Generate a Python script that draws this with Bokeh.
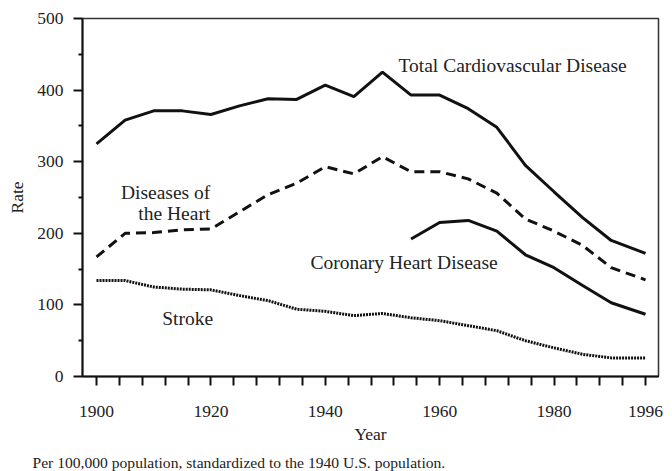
from bokeh.plotting import figure
from bokeh.models import FixedTicker, Label, Title
from bokeh.embed import file_html
from bokeh.resources import INLINE

# ---- data ----
years = [1900, 1905, 1910, 1915, 1920, 1925, 1930, 1935, 1940, 1945,
         1950, 1955, 1960, 1965, 1970, 1975, 1980, 1985, 1990, 1996]
total_cvd = [325, 358, 371, 371, 366, 378, 388, 387, 407, 391,
             425, 393, 393, 374, 348, 295, 258, 222, 190, 172]
heart = [167, 200, 201, 205, 206, 230, 254, 270, 293, 283,
         307, 286, 286, 276, 256, 220, 203, 183, 152, 135]
stroke = [134, 134, 125, 122, 121, 113, 106, 94, 91, 85,
          88, 82, 78, 71, 64, 50, 40, 31, 26, 26]
chd_years = [1955, 1960, 1965, 1970, 1975, 1980, 1985, 1990, 1996]
chd = [192, 215, 218, 203, 170, 152, 127, 103, 87]

x_ticks = list(range(1900, 1997, 4))
x_tick_labels = {1900: "1900", 1920: "1920", 1940: "1940", 1960: "1960",
                 1980: "1980", 1996: "1996"}
y_ticks = [0, 100, 200, 300, 400, 500]
y_minor = [50, 150, 250, 350, 450]

FONT = "Liberation Serif"
INK = "#111111"
TXT = "#222222"

p = figure(frame_width=576, frame_height=358,
           min_border_left=82, min_border_right=8, min_border_top=18, min_border_bottom=10,
           x_range=(1897.55, 1998.27), y_range=(0, 500),
           output_backend="svg", toolbar_location=None)
p.background_fill_color = "white"
p.border_fill_color = "white"
p.xgrid.visible = False
p.ygrid.visible = False
p.outline_line_color = "#333333"
p.outline_line_width = 1.5

# axes
p.xaxis.ticker = FixedTicker(ticks=x_ticks)
p.xaxis.major_label_overrides = {t: x_tick_labels.get(t, "") for t in x_ticks}
p.yaxis.ticker = FixedTicker(ticks=y_ticks, minor_ticks=y_minor)
for ax in (p.xaxis[0], p.yaxis[0]):
    ax.axis_line_width = 2
    ax.axis_line_color = INK
    ax.major_tick_line_width = 2
    ax.major_tick_line_color = INK
    ax.major_tick_in = 0
    ax.major_tick_out = 9
    ax.minor_tick_line_width = 2
    ax.minor_tick_line_color = INK
    ax.minor_tick_in = 0
    ax.minor_tick_out = 4
    ax.major_label_text_font = FONT
    ax.major_label_text_font_size = "17.5px"
    ax.major_label_text_color = TXT
    ax.axis_label_text_font = FONT
    ax.axis_label_text_font_size = "17.5px"
    ax.axis_label_text_font_style = "normal"
    ax.axis_label_text_color = TXT
p.xaxis.minor_tick_line_color = None
p.xaxis.axis_label = "Year"
p.yaxis.axis_label = "Rate"
p.xaxis.major_label_standoff = 20
p.yaxis.major_label_standoff = 10
p.xaxis.axis_label_standoff = 4
p.yaxis.axis_label_standoff = 7

# lines
p.line(years, total_cvd, line_color=INK, line_width=3)
p.line(years, heart, line_color=INK, line_width=3, line_dash="10 6")
p.line(chd_years, chd, line_color=INK, line_width=3)
p.line(years, stroke, line_color=INK, line_width=3, line_dash="2 1")

# annotations
def lab(x, y, t, align="left"):
    p.add_layout(Label(x=x, y=y, text=t, text_font=FONT, text_font_size="19.5px",
                       text_color=TXT, text_align=align, text_baseline="alphabetic"))

lab(1952.8, 434, "Total Cardiovascular Disease")
lab(1919.9, 257, "Diseases of", "right")
lab(1919.9, 227.7, "the Heart", "right")
lab(1937.4, 159, "Coronary Heart Disease")
lab(1911.5, 81, "Stroke")

foot = Title(text="Per 100,000 population, standardized to the 1940 U.S. population.",
             text_font=FONT, text_font_size="15.6px", text_font_style="normal",
             text_color=TXT, align="left", offset=-50)
p.add_layout(foot, "below")

open("out.html", "w").write(file_html(p, INLINE))
